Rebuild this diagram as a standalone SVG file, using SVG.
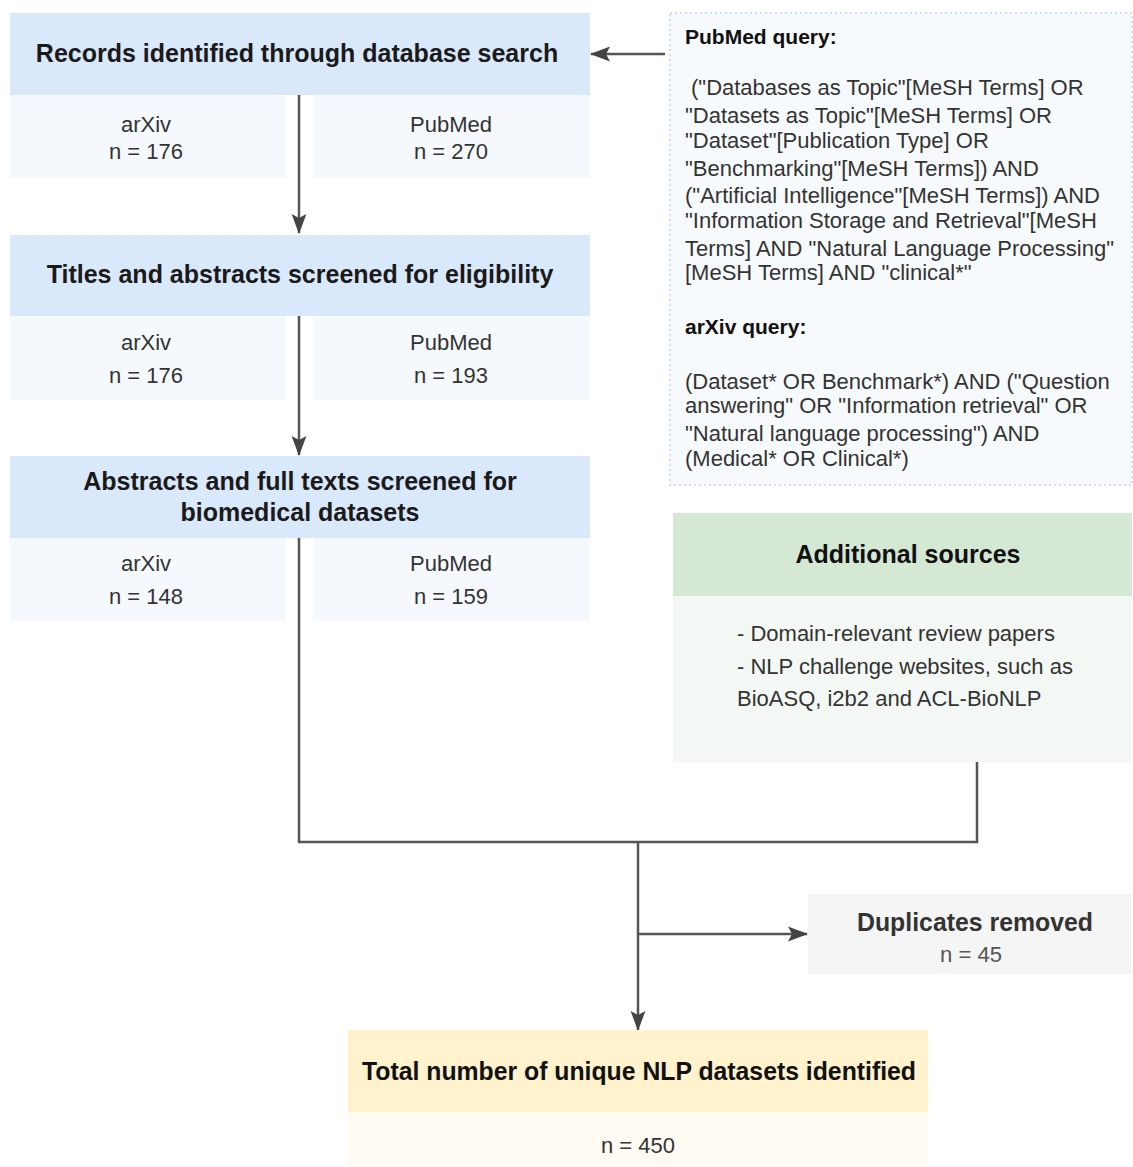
<svg xmlns="http://www.w3.org/2000/svg" width="1133" height="1167" viewBox="0 0 1133 1167">
<defs>
<style>
text{font-family:"Liberation Sans",Arial,sans-serif;}
.h{font-size:25px;font-weight:bold;fill:#1a1a1a;text-anchor:middle;}
.s{font-size:22px;fill:#333;text-anchor:middle;}
.q{font-size:22px;fill:#333;}
.qb{font-size:21px;font-weight:bold;fill:#111;}
.hb{fill:#dae8fc;}
.sb{fill:#f5f9fd;}
.ln{stroke:#555;stroke-width:2.5;fill:none;}
</style>
<marker id="ah" viewBox="0 0 10 10" refX="9.5" refY="5" markerWidth="20" markerHeight="20" markerUnits="userSpaceOnUse" orient="auto-start-reverse">
<path d="M0,1.3 L10,5 L0,8.7 L2,5 z" fill="#444"/>
</marker>
</defs>
<rect width="1133" height="1167" fill="#fff"/>
<g id="connectors">
<line class="ln" x1="299" y1="95" x2="299" y2="233" marker-end="url(#ah)"/>
<line class="ln" x1="299" y1="316" x2="299" y2="455" marker-end="url(#ah)"/>
<polyline class="ln" points="299,538 299,842 977,842 977,762"/>
<line class="ln" x1="638" y1="842" x2="638" y2="1030" marker-end="url(#ah)"/>
<line class="ln" x1="638" y1="934" x2="807" y2="934" marker-end="url(#ah)"/>
<line class="ln" x1="665" y1="54" x2="591" y2="54" marker-end="url(#ah)"/>
</g>
<g id="records">
<rect class="hb" x="10" y="13" width="580" height="82"/>
<text class="h" x="297" y="62">Records identified through database search</text>
</g>
<g id="records-arxiv">
<rect class="sb" x="10" y="95" width="276" height="83"/>
<text class="s" x="146" y="132">arXiv</text>
<text class="s" x="146" y="159">n = 176</text>
</g>
<g id="records-pubmed">
<rect class="sb" x="313" y="95" width="277" height="83"/>
<text class="s" x="451" y="132">PubMed</text>
<text class="s" x="451" y="159">n = 270</text>
</g>
<g id="titles">
<rect class="hb" x="10" y="235" width="580" height="81"/>
<text class="h" x="300" y="283">Titles and abstracts screened for eligibility</text>
</g>
<g id="titles-arxiv">
<rect class="sb" x="10" y="316" width="276" height="84"/>
<text class="s" x="146" y="350">arXiv</text>
<text class="s" x="146" y="383">n = 176</text>
</g>
<g id="titles-pubmed">
<rect class="sb" x="313" y="316" width="277" height="84"/>
<text class="s" x="451" y="350">PubMed</text>
<text class="s" x="451" y="383">n = 193</text>
</g>
<g id="abstracts">
<rect class="hb" x="10" y="456" width="580" height="82"/>
<text class="h" x="300" y="490">Abstracts and full texts screened for</text>
<text class="h" x="300" y="521">biomedical datasets</text>
</g>
<g id="abstracts-arxiv">
<rect class="sb" x="10" y="538" width="276" height="83"/>
<text class="s" x="146" y="571">arXiv</text>
<text class="s" x="146" y="604">n = 148</text>
</g>
<g id="abstracts-pubmed">
<rect class="sb" x="313" y="538" width="277" height="83"/>
<text class="s" x="451" y="571">PubMed</text>
<text class="s" x="451" y="604">n = 159</text>
</g>
<g id="queries">
<rect x="670" y="13" width="462" height="472" fill="#f7fafd" stroke="#c5d6ee" stroke-width="1.5" stroke-dasharray="2,3"/>
<text class="qb" x="685" y="44">PubMed query:</text>
<text class="q" x="691" y="95">("Databases as Topic"[MeSH Terms] OR</text>
<text class="q" x="685" y="123">"Datasets as Topic"[MeSH Terms] OR</text>
<text class="q" x="685" y="148">"Dataset"[Publication Type] OR</text>
<text class="q" x="685" y="176">"Benchmarking"[MeSH Terms]) AND</text>
<text class="q" x="685" y="203">("Artificial Intelligence"[MeSH Terms]) AND</text>
<text class="q" x="685" y="228">"Information Storage and Retrieval"[MeSH</text>
<text class="q" x="685" y="256">Terms] AND "Natural Language Processing"</text>
<text class="q" x="685" y="280">[MeSH Terms] AND "clinical*"</text>
<text class="qb" x="685" y="334">arXiv query:</text>
<text class="q" x="685" y="389">(Dataset* OR Benchmark*) AND ("Question</text>
<text class="q" x="685" y="413">answering" OR "Information retrieval" OR</text>
<text class="q" x="685" y="441">"Natural language processing") AND</text>
<text class="q" x="685" y="466">(Medical* OR Clinical*)</text>
</g>
<g id="additional">
<rect x="673" y="513" width="459" height="83" fill="#d5e8d4"/>
<rect x="673" y="596" width="459" height="166" fill="#f4f8f4"/>
<text class="h" x="908" y="563" style="fill:#111">Additional sources</text>
<text class="q" x="737" y="641">- Domain-relevant review papers</text>
<text class="q" x="737" y="674">- NLP challenge websites, such as</text>
<text class="q" x="737" y="706">BioASQ, i2b2 and ACL-BioNLP</text>
</g>
<g id="duplicates">
<rect x="808" y="894" width="324" height="80" fill="#f5f5f5"/>
<text class="h" x="975" y="931" textLength="236" lengthAdjust="spacingAndGlyphs" style="fill:#333">Duplicates removed</text>
<text class="s" x="971" y="962" textLength="62" lengthAdjust="spacingAndGlyphs" style="fill:#555">n = 45</text>
</g>
<g id="total">
<rect x="348" y="1030" width="580" height="82" fill="#fff2cc"/>
<rect x="348" y="1112" width="580" height="54" fill="#fffbf3"/>
<text class="h" x="639" y="1080" textLength="554" lengthAdjust="spacingAndGlyphs" style="fill:#111">Total number of unique NLP datasets identified</text>
<text class="s" x="638" y="1153" textLength="74" lengthAdjust="spacingAndGlyphs">n = 450</text>
</g>
</svg>
